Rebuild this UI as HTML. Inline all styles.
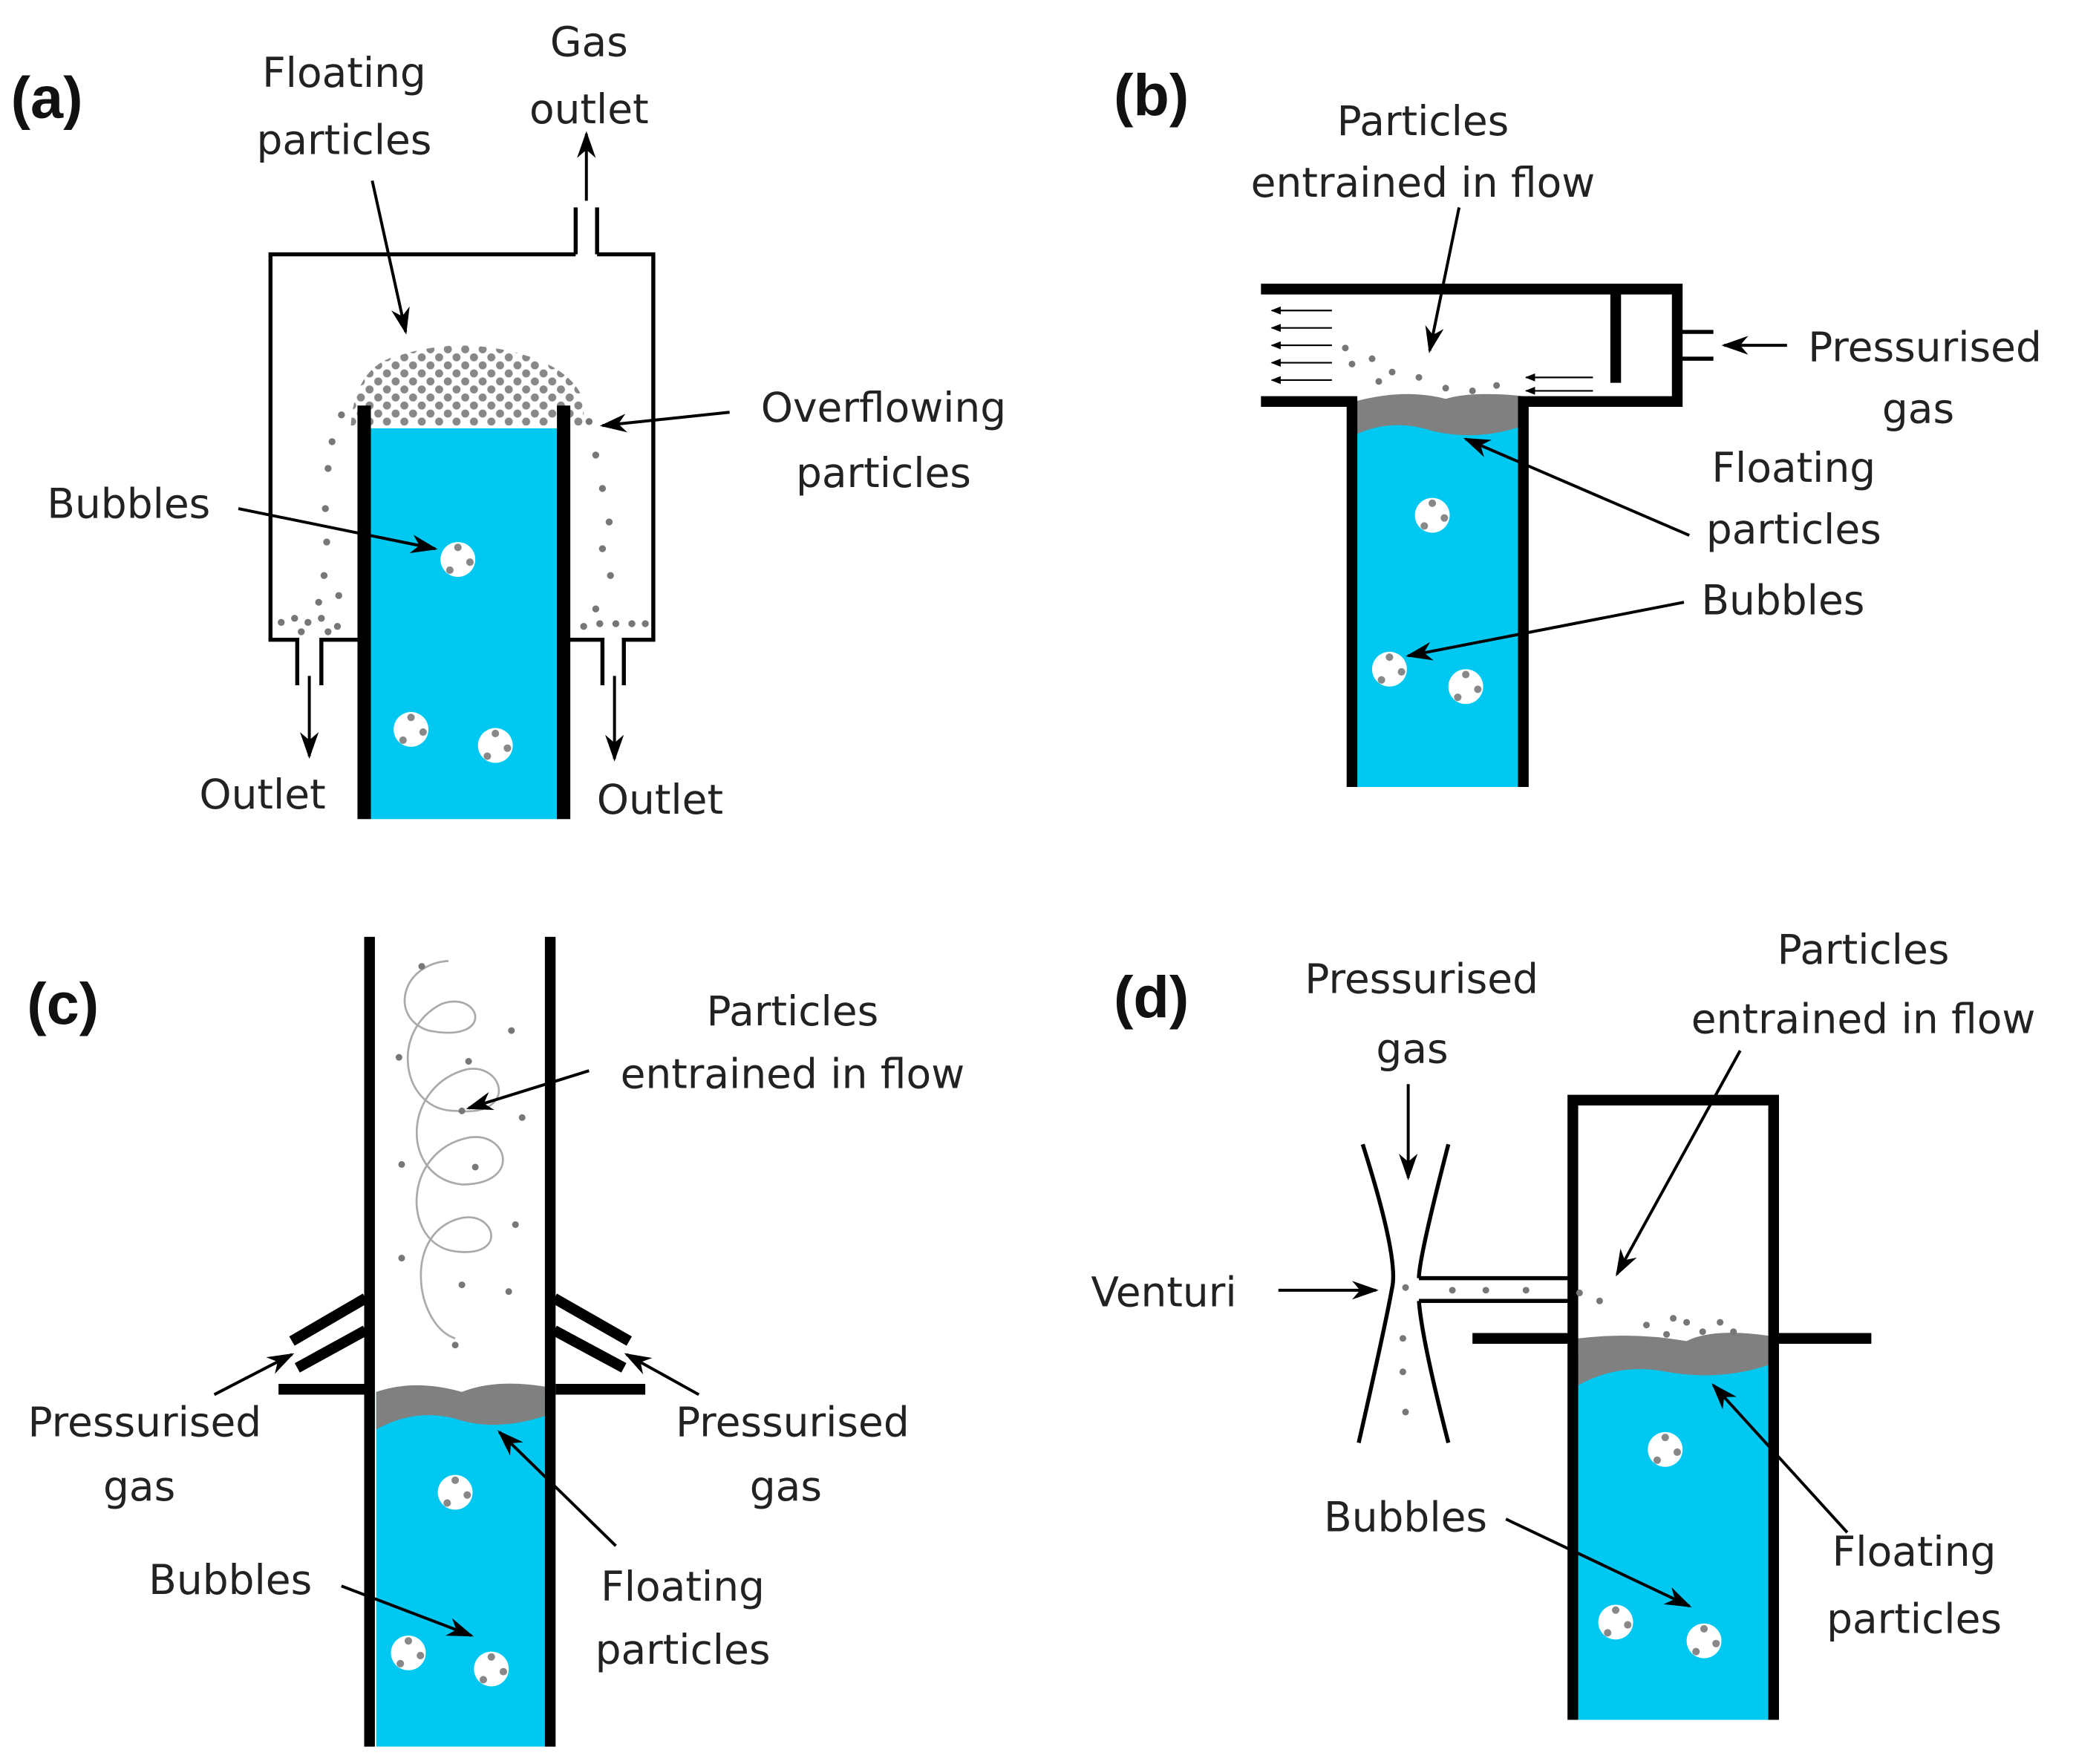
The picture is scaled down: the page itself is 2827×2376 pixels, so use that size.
<!DOCTYPE html>
<html><head><style>html,body{margin:0;padding:0;background:#fff}svg{display:block}</style></head><body>
<svg width="2827" height="2376" viewBox="0 0 1568 1318" xmlns="http://www.w3.org/2000/svg" font-family="DejaVu Sans, Liberation Sans, sans-serif" font-size="30.5" fill="#222">
<defs>
<marker id="ah" viewBox="0 0 20 14" refX="18" refY="7" markerWidth="20" markerHeight="14" markerUnits="userSpaceOnUse" orient="auto"><path d="M0,0 L20,7 L0,14 L6,7 Z" fill="#000"/></marker>
<marker id="sa" viewBox="0 0 10 8" refX="9" refY="4" markerWidth="8" markerHeight="6" markerUnits="userSpaceOnUse" orient="auto"><path d="M0,0 L10,4 L0,8 Z" fill="#000"/></marker>
<pattern id="dots" width="13" height="12" patternUnits="userSpaceOnUse"><circle cx="3" cy="3" r="3" fill="#888"/><circle cx="9.5" cy="9" r="3" fill="#888"/></pattern>
<g id="bub"><circle r="13" fill="#fff"/><circle cx="0" cy="-9" r="2.8" fill="#888"/><circle cx="9" cy="2" r="2.8" fill="#888"/><circle cx="-6" cy="8" r="2.8" fill="#888"/></g>
</defs>
<g font-family="Liberation Sans, sans-serif" font-weight="bold" font-size="44" fill="#111">
<text x="8" y="88">(a)</text><text x="832" y="86">(b)</text><text x="20" y="765">(c)</text><text x="832" y="760">(d)</text></g>

<!-- Panel a -->
<g fill="none" stroke="#000" stroke-width="3">
<path d="M430,190 H202 V478 H222 V512 M240,512 V478 H270"/>
<path d="M446,190 H488 V478 H466 V512 M450,512 V478 H422"/>
<path d="M430,190 V155 M446,190 V155"/>
</g>
<path d="M262,318 Q265,272 300,265 Q350,250 400,268 Q430,280 436,300 L436,318 Z" fill="url(#dots)"/>
<rect x="277" y="320" width="140" height="292" fill="#00c8f0"/>
<rect x="267" y="303" width="10" height="309" fill="#000"/>
<rect x="416" y="303" width="10" height="309" fill="#000"/>
<g fill="#777">
<circle cx="255" cy="310" r="2.6"/><circle cx="248" cy="330" r="2.6"/><circle cx="245" cy="350" r="2.6"/><circle cx="243" cy="380" r="2.6"/><circle cx="244" cy="405" r="2.6"/><circle cx="242" cy="430" r="2.6"/><circle cx="238" cy="450" r="2.6"/><circle cx="253" cy="445" r="2.6"/>
<circle cx="210" cy="465" r="2.6"/><circle cx="220" cy="462" r="2.6"/><circle cx="230" cy="465" r="2.6"/><circle cx="240" cy="462" r="2.6"/><circle cx="252" cy="468" r="2.6"/><circle cx="225" cy="472" r="2.6"/><circle cx="245" cy="472" r="2.6"/>
<circle cx="440" cy="315" r="2.6"/><circle cx="445" cy="340" r="2.6"/><circle cx="450" cy="365" r="2.6"/><circle cx="455" cy="390" r="2.6"/><circle cx="450" cy="410" r="2.6"/><circle cx="456" cy="430" r="2.6"/><circle cx="445" cy="455" r="2.6"/>
<circle cx="436" cy="468" r="2.6"/><circle cx="448" cy="466" r="2.6"/><circle cx="460" cy="466" r="2.6"/><circle cx="472" cy="466" r="2.6"/><circle cx="482" cy="466" r="2.6"/>
</g>
<use href="#bub" x="342" y="418"/><use href="#bub" x="307" y="545"/><use href="#bub" x="370" y="557"/>
<g stroke="#000" stroke-width="2.2" fill="none" marker-end="url(#ah)">
<line x1="438" y1="150" x2="438" y2="100"/>
<line x1="231" y1="505" x2="231" y2="565"/>
<line x1="459" y1="505" x2="459" y2="567"/>
<line x1="278" y1="135" x2="303" y2="248"/>
<line x1="545" y1="308" x2="450" y2="318"/>
<line x1="178" y1="380" x2="325" y2="410"/>
</g>
<g text-anchor="middle">
<text x="257" y="65">Floating</text><text x="257" y="115">particles</text>
<text x="440" y="42">Gas</text><text x="440" y="92">outlet</text>
<text x="660" y="315">Overflowing</text><text x="660" y="364">particles</text>
<text x="196" y="604">Outlet</text><text x="493" y="608">Outlet</text>
</g>
<text x="35" y="387">Bubbles</text>

<!-- Panel b -->
<rect x="1012" y="300" width="126" height="288" fill="#00c8f0"/>
<path d="M1012,300 L1012,325 Q1040,312 1070,322 Q1105,330 1138,318 L1138,296 Q1100,292 1080,298 Q1050,290 1012,300Z" fill="#808080"/>
<g stroke="#000" stroke-width="8" fill="none">
<path d="M942,216 H1253 V300 H1138 V588"/>
<path d="M942,300 H1010 V588"/>
<line x1="1207" y1="216" x2="1207" y2="286"/>
</g>
<g stroke="#000" stroke-width="3" fill="none"><path d="M1253,248 H1280 M1253,268 H1280"/></g>
<g stroke="#000" stroke-width="1.2" marker-end="url(#sa)">
<line x1="995" y1="232" x2="950" y2="232"/><line x1="995" y1="245" x2="950" y2="245"/><line x1="995" y1="258" x2="950" y2="258"/><line x1="995" y1="271" x2="950" y2="271"/><line x1="995" y1="284" x2="950" y2="284"/>
<line x1="1190" y1="282" x2="1140" y2="282"/><line x1="1190" y1="292" x2="1140" y2="292"/>
</g>
<g fill="#777"><circle cx="1005" cy="260" r="2.5"/><circle cx="1010" cy="272" r="2.5"/><circle cx="1025" cy="268" r="2.5"/><circle cx="1040" cy="278" r="2.5"/><circle cx="1060" cy="282" r="2.5"/><circle cx="1080" cy="290" r="2.5"/><circle cx="1100" cy="292" r="2.5"/><circle cx="1118" cy="288" r="2.5"/><circle cx="1030" cy="285" r="2.5"/></g>
<use href="#bub" x="1070" y="385"/><use href="#bub" x="1038" y="500"/><use href="#bub" x="1095" y="513"/>
<g stroke="#000" stroke-width="2.2" fill="none" marker-end="url(#ah)">
<line x1="1090" y1="155" x2="1068" y2="262"/>
<line x1="1335" y1="258" x2="1288" y2="258"/>
<line x1="1262" y1="400" x2="1095" y2="328"/>
<line x1="1258" y1="450" x2="1052" y2="490"/>
</g>
<g text-anchor="middle">
<text x="1063" y="101">Particles</text><text x="1063" y="147">entrained in flow</text>
<text x="1438" y="270">Pressurised</text><text x="1433" y="316">gas</text>
<text x="1340" y="360">Floating</text><text x="1340" y="406">particles</text>
<text x="1332" y="459">Bubbles</text>
</g>

<!-- Panel c -->
<rect x="281" y="1040" width="126" height="265" fill="#00c8f0"/>
<path d="M281,1040 L281,1068 Q310,1052 340,1060 Q370,1070 407,1058 L407,1036 Q370,1030 345,1040 Q310,1030 281,1040Z" fill="#808080"/>
<g stroke="#000" stroke-width="8" fill="none">
<line x1="276" y1="700" x2="276" y2="1305"/><line x1="411" y1="700" x2="411" y2="1305"/>
<line x1="208" y1="1038" x2="272" y2="1038"/><line x1="415" y1="1038" x2="482" y2="1038"/>
<line x1="218" y1="1002" x2="273" y2="970"/><line x1="222" y1="1022" x2="273" y2="994"/>
<line x1="470" y1="1002" x2="414" y2="970"/><line x1="466" y1="1022" x2="414" y2="994"/>
</g>
<path d="M335,718 C300,720 290,760 320,770 C370,780 360,740 330,750 C290,770 300,830 340,830 C390,835 375,790 345,800 C300,815 300,880 345,885 C390,885 380,845 350,850 C300,860 300,930 340,935 C380,940 370,905 345,910 C300,920 310,990 340,1000" stroke="#aaa" stroke-width="1.5" fill="none"/>
<g fill="#777"><circle cx="315" cy="722" r="2.5"/><circle cx="298" cy="790" r="2.5"/><circle cx="350" cy="793" r="2.5"/><circle cx="382" cy="770" r="2.5"/><circle cx="345" cy="830" r="2.5"/><circle cx="390" cy="835" r="2.5"/><circle cx="300" cy="870" r="2.5"/><circle cx="355" cy="872" r="2.5"/><circle cx="385" cy="915" r="2.5"/><circle cx="300" cy="940" r="2.5"/><circle cx="345" cy="960" r="2.5"/><circle cx="380" cy="965" r="2.5"/><circle cx="340" cy="1005" r="2.5"/></g>
<use href="#bub" x="340" y="1115"/><use href="#bub" x="305" y="1235"/><use href="#bub" x="367" y="1247"/>
<g stroke="#000" stroke-width="2.2" fill="none" marker-end="url(#ah)">
<line x1="440" y1="800" x2="350" y2="828"/>
<line x1="160" y1="1042" x2="218" y2="1012"/>
<line x1="522" y1="1042" x2="468" y2="1012"/>
<line x1="460" y1="1155" x2="373" y2="1070"/>
<line x1="255" y1="1185" x2="352" y2="1222"/>
</g>
<g text-anchor="middle">
<text x="592" y="766">Particles</text><text x="592" y="813">entrained in flow</text>
<text x="108" y="1073">Pressurised</text><text x="104" y="1121">gas</text>
<text x="592" y="1073">Pressurised</text><text x="587" y="1121">gas</text>
<text x="172" y="1191">Bubbles</text>
<text x="510" y="1196">Floating</text><text x="510" y="1243">particles</text>
</g>

<!-- Panel d -->
<rect x="1179" y="1010" width="142" height="275" fill="#00c8f0"/>
<path d="M1179,1000 L1179,1035 Q1210,1018 1245,1025 Q1285,1032 1321,1020 L1321,998 Q1280,992 1260,1002 Q1220,995 1179,1000Z" fill="#808080"/>
<g stroke="#000" stroke-width="8" fill="none">
<path d="M1175,1285 V822 H1325 V1285"/>
<line x1="1100" y1="1000" x2="1172" y2="1000"/><line x1="1328" y1="1000" x2="1398" y2="1000"/>
</g>
<g stroke="#000" stroke-width="3" fill="none">
<path d="M1018,855 Q1045,940 1040,962 Q1035,990 1015,1078"/>
<path d="M1082,855 Q1060,940 1060,955 M1060,972 Q1062,1000 1082,1078"/>
<path d="M1060,955 H1175 M1060,972 H1175"/>
</g>
<g fill="#777"><circle cx="1050" cy="962" r="2.5"/><circle cx="1085" cy="964" r="2.5"/><circle cx="1110" cy="964" r="2.5"/><circle cx="1140" cy="964" r="2.5"/><circle cx="1180" cy="966" r="2.5"/><circle cx="1195" cy="972" r="2.5"/><circle cx="1048" cy="1000" r="2.5"/><circle cx="1048" cy="1025" r="2.5"/><circle cx="1050" cy="1055" r="2.5"/><circle cx="1230" cy="990" r="2.5"/><circle cx="1245" cy="997" r="2.5"/><circle cx="1260" cy="988" r="2.5"/><circle cx="1272" cy="995" r="2.5"/><circle cx="1285" cy="988" r="2.5"/><circle cx="1295" cy="995" r="2.5"/><circle cx="1250" cy="985" r="2.5"/></g>
<use href="#bub" x="1244" y="1083"/><use href="#bub" x="1207" y="1212"/><use href="#bub" x="1273" y="1226"/>
<g stroke="#000" stroke-width="2.2" fill="none" marker-end="url(#ah)">
<line x1="1052" y1="810" x2="1052" y2="880"/>
<line x1="1300" y1="785" x2="1208" y2="952"/>
<line x1="955" y1="964" x2="1028" y2="964"/>
<line x1="1125" y1="1135" x2="1262" y2="1200"/>
<line x1="1380" y1="1145" x2="1280" y2="1035"/>
</g>
<g text-anchor="middle">
<text x="1062" y="742">Pressurised</text><text x="1055" y="794">gas</text>
<text x="1392" y="720">Particles</text><text x="1392" y="772">entrained in flow</text>
<text x="1050" y="1144">Bubbles</text>
<text x="1430" y="1170">Floating</text><text x="1430" y="1220">particles</text>
</g>
<text x="815" y="976">Venturi</text>
</svg>
</body></html>
